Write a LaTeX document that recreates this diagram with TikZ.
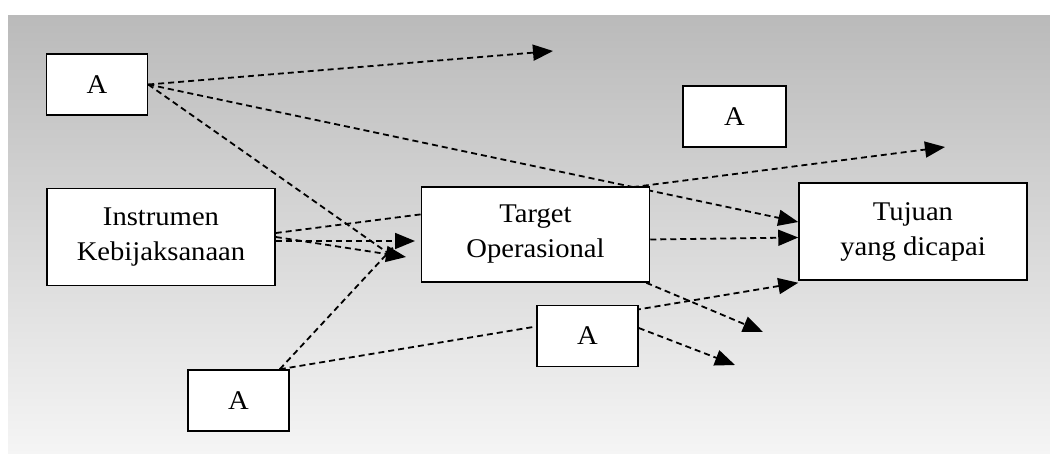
\documentclass[tikz,border=0pt]{standalone}
\usepackage{fontspec}
\setmainfont{Liberation Serif}[FakeStretch=1.06]
\usetikzlibrary{arrows.meta}
\usetikzlibrary{positioning}
\usetikzlibrary{backgrounds}
\usetikzlibrary{calc}
\tikzset{box/.style = {draw, fill=white, line width=1.5pt, inner sep=0, align=center}}
\tikzset{abox/.style = {box, minimum width=101pt, minimum height=61pt}}
\tikzset{bigbox/.style = {box, minimum width=228pt, minimum height=97pt}}
\tikzset{dashline/.style = {line width=1.8pt, dash pattern=on 6pt off 4pt}}
\tikzset{dasharrow/.style = {dashline, -{Triangle[length=20pt, width=16pt]}}}

\begin{document}
\begin{tikzpicture}[x=1pt, y=-1pt, font=\fontsize{27}{35}\selectfont]
  \useasboundingbox (0,0) rectangle (1050,453);

  \node [abox] (a1) at (97,84.5) {A};
  \node [abox, minimum width=103pt] (a2) at (734.5,116.5) {A};
  \node [bigbox] (instr) at (161,237) {Instrumen\\Kebijaksanaan};
  \node [bigbox, minimum height=95pt] (tgt) at (535.5,234.5) {Target\\Operasional};
  \node [bigbox] (tuj) at (913,231.5) {Tujuan\\yang dicapai};
  \node [abox] (a3) at (238.5,400.5) {A};
  \node [abox] (a4) at (587.5,336) {A};

  % free arrow ends
  \coordinate (top1) at (553,51);
  \coordinate (top2) at (945,147);
  \coordinate (tin1) at (415,241);
  \coordinate (tin2) at (406,257);
  \coordinate (out1) at (763,332);
  \coordinate (out2) at (735,365);

  \begin{scope}[on background layer]
    \shade [top color=black!27, middle color=black!16, bottom color=black!4] (8,15) rectangle (1050,453);

    \draw [dasharrow] (a1.east) -- (top1);
    \draw [dasharrow] (a1.east) -- ([yshift=9.5pt]tuj.west);
    \draw [dashline] (a1.east) -- ($(tin2)!16pt!(instr.east)$);

    \draw [dasharrow] ([yshift=4pt]instr.east) -- (top2);
    \draw [dasharrow] ([yshift=-4pt]instr.east) -- (tin1);
    \draw [dasharrow] (instr.east) -- (tin2);

    \draw [dashline] ([xshift=-10pt]a3.north east) -- ($(tin1)!16pt!([yshift=-4pt]instr.east)$);
    \draw [dasharrow] ([xshift=-10pt]a3.north east) -- ([yshift=-2pt]tuj.south west);

    \draw [dasharrow] ([yshift=-5pt]tgt.east) -- ([yshift=-6pt]tuj.west);
    \draw [dasharrow] ([xshift=-4pt]tgt.south east) -- (out1);
    \draw [dasharrow] ([yshift=8pt]a4.east) -- (out2);
  \end{scope}
\end{tikzpicture}
\end{document}
